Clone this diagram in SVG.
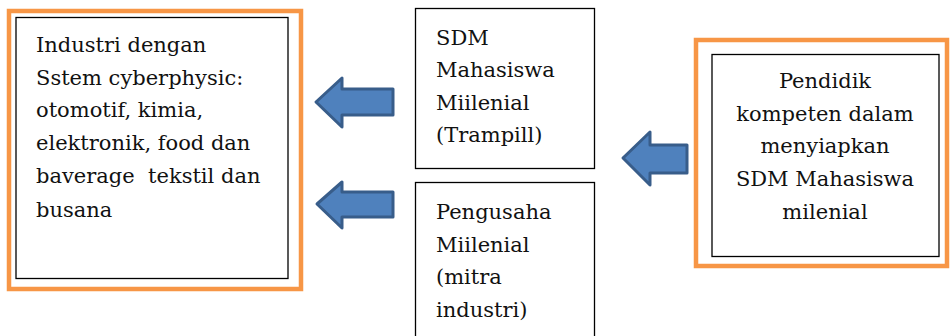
<svg xmlns="http://www.w3.org/2000/svg" width="950" height="336" viewBox="0 0 950 336">
<style>
.outer{fill:none;stroke:#F79646;stroke-width:4.5}
.box{fill:#fff;stroke:#000;stroke-width:1.3}
.arrow{fill:#4F81BD;stroke:#385D8A;stroke-width:3;stroke-linejoin:round}
text{font-family:"DejaVu Serif","Liberation Serif",serif;font-size:21px;fill:#111;white-space:pre}
.c{text-anchor:middle}
</style>
<rect width="950" height="336" fill="#fff"/>
<g id="industri">
<rect class="outer" x="9" y="11" width="292" height="278"/>
<rect class="box" x="16" y="17.5" width="272" height="261"/>
<text x="36" y="52">Industri dengan</text>
<text x="36" y="85">Sstem cyberphysic:</text>
<text x="36" y="117">otomotif, kimia,</text>
<text x="36" y="150">elektronik, food dan</text>
<text x="36" y="183" xml:space="preserve">baverage  tekstil dan</text>
<text x="36" y="217">busana</text>
</g>
<g id="sdm">
<rect class="box" x="415.5" y="8.5" width="179" height="160"/>
<text x="436" y="45">SDM</text>
<text x="436" y="77">Mahasiswa</text>
<text x="436" y="110">Miilenial</text>
<text x="436" y="142">(Trampill)</text>
</g>
<g id="pengusaha">
<rect class="box" x="415.5" y="182.5" width="179" height="160"/>
<text x="436" y="219">Pengusaha</text>
<text x="436" y="252">Miilenial</text>
<text x="436" y="284">(mitra</text>
<text x="436" y="317">industri)</text>
</g>
<g id="pendidik">
<rect class="outer" x="696" y="40" width="251" height="226"/>
<rect class="box" x="712" y="54.5" width="227" height="202"/>
<text class="c" x="825" y="88">Pendidik</text>
<text class="c" x="825" y="121">kompeten dalam</text>
<text class="c" x="825" y="153">menyiapkan</text>
<text class="c" x="825" y="186">SDM Mahasiswa</text>
<text class="c" x="825" y="219">milenial</text>
</g>
<g id="connectors">
<path class="arrow" d="M316,102 L342,78 L342,89 L393,89 L393,115 L342,115 L342,127 Z"/>
<path class="arrow" d="M317,204 L342,182 L342,192 L393,192 L393,217 L342,217 L342,228 Z"/>
<path class="arrow" d="M623,158 L650,132 L650,145 L687,145 L687,173 L650,173 L650,185 Z"/>
</g>
</svg>
